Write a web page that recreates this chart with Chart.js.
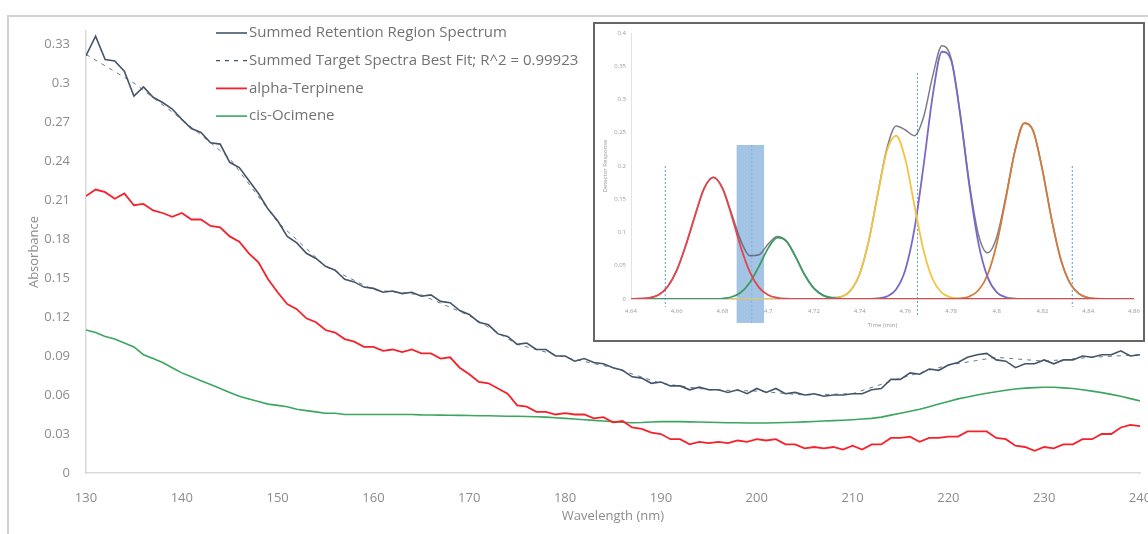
<!DOCTYPE html>
<html>
<head>
<meta charset="utf-8">
<title>Absorbance spectra</title>
<script src="https://cdn.jsdelivr.net/npm/chart.js@4.4.0/dist/chart.umd.min.js"></script>
<style>
  html, body { margin: 0; padding: 0; background: #fff; }
  #wrap { position: relative; width: 1148px; height: 534px; overflow: hidden; }
  #frame { position: absolute; left: 7px; top: 15px; width: 1200px; height: 600px; border: 2px solid #d2d2d2; box-sizing: border-box; }
  #spectrum { position: absolute; left: 0; top: 0; }
  #inset { position: absolute; left: 593px; top: 22px; width: 552px; height: 320px; border: 2px solid #666; box-sizing: border-box; background: #fff; }
  #chromatogram { display: block; }
</style>
</head>
<body>
<div id="wrap">
  <div id="frame"></div>
  <canvas id="spectrum" width="1148" height="534"></canvas>
  <div id="inset"><canvas id="chromatogram" width="548" height="316"></canvas></div>
</div>
<script>
'use strict';

// main spectrum, one value per nm
var wavelengths = [
  130, 131, 132, 133, 134, 135, 136, 137, 138, 139,
  140, 141, 142, 143, 144, 145, 146, 147, 148, 149,
  150, 151, 152, 153, 154, 155, 156, 157, 158, 159,
  160, 161, 162, 163, 164, 165, 166, 167, 168, 169,
  170, 171, 172, 173, 174, 175, 176, 177, 178, 179,
  180, 181, 182, 183, 184, 185, 186, 187, 188, 189,
  190, 191, 192, 193, 194, 195, 196, 197, 198, 199,
  200, 201, 202, 203, 204, 205, 206, 207, 208, 209,
  210, 211, 212, 213, 214, 215, 216, 217, 218, 219,
  220, 221, 222, 223, 224, 225, 226, 227, 228, 229,
  230, 231, 232, 233, 234, 235, 236, 237, 238, 239,
  240
];
var summedSpectrum = [
  0.321, 0.336, 0.318, 0.317, 0.309, 0.290, 0.297, 0.289, 0.285, 0.280,
  0.272, 0.265, 0.262, 0.254, 0.253, 0.239, 0.235, 0.225, 0.215, 0.203,
  0.194, 0.182, 0.177, 0.169, 0.165, 0.159, 0.156, 0.149, 0.147, 0.143,
  0.142, 0.139, 0.140, 0.138, 0.139, 0.136, 0.137, 0.132, 0.131, 0.125,
  0.122, 0.116, 0.114, 0.107, 0.105, 0.099, 0.100, 0.095, 0.095, 0.090,
  0.090, 0.086, 0.088, 0.085, 0.084, 0.081, 0.079, 0.074, 0.073, 0.069,
  0.070, 0.067, 0.067, 0.064, 0.066, 0.064, 0.064, 0.062, 0.064, 0.061,
  0.065, 0.062, 0.065, 0.061, 0.062, 0.060, 0.061, 0.059, 0.060, 0.060,
  0.061, 0.061, 0.064, 0.065, 0.072, 0.072, 0.077, 0.076, 0.080, 0.079,
  0.083, 0.085, 0.089, 0.091, 0.092, 0.087, 0.086, 0.081, 0.084, 0.084,
  0.087, 0.084, 0.087, 0.087, 0.090, 0.089, 0.091, 0.091, 0.094, 0.090,
  0.091
];
var alphaTerpinene = [
  0.213, 0.218, 0.216, 0.211, 0.215, 0.206, 0.207, 0.202, 0.200, 0.197,
  0.200, 0.195, 0.195, 0.190, 0.189, 0.182, 0.178, 0.169, 0.162, 0.149,
  0.139, 0.130, 0.126, 0.119, 0.116, 0.110, 0.108, 0.103, 0.101, 0.097,
  0.097, 0.094, 0.095, 0.093, 0.095, 0.092, 0.092, 0.088, 0.089, 0.081,
  0.076, 0.070, 0.069, 0.065, 0.061, 0.052, 0.051, 0.047, 0.047, 0.045,
  0.046, 0.045, 0.045, 0.042, 0.043, 0.039, 0.040, 0.035, 0.034, 0.031,
  0.030, 0.026, 0.026, 0.022, 0.024, 0.023, 0.024, 0.023, 0.025, 0.024,
  0.026, 0.025, 0.026, 0.022, 0.022, 0.019, 0.020, 0.019, 0.020, 0.018,
  0.021, 0.018, 0.022, 0.022, 0.027, 0.027, 0.028, 0.024, 0.027, 0.027,
  0.028, 0.028, 0.032, 0.032, 0.032, 0.027, 0.026, 0.021, 0.020, 0.017,
  0.020, 0.019, 0.022, 0.022, 0.026, 0.026, 0.030, 0.030, 0.035, 0.037,
  0.036
];
var cisOcimene = [
  0.110, 0.108, 0.105, 0.103, 0.100, 0.097, 0.091, 0.088, 0.085, 0.081,
  0.077, 0.074, 0.071, 0.068, 0.065, 0.062, 0.059, 0.057, 0.055, 0.053,
  0.052, 0.051, 0.049, 0.048, 0.047, 0.046, 0.046, 0.045, 0.045, 0.045,
  0.045, 0.045, 0.045, 0.045, 0.045, 0.0447, 0.0446, 0.0445, 0.0444, 0.0443,
  0.0442, 0.044, 0.044, 0.0438, 0.0437, 0.0436, 0.0435, 0.0433, 0.043, 0.0425,
  0.042, 0.0415, 0.041, 0.0405, 0.040, 0.0395, 0.039, 0.0387, 0.0388, 0.0392,
  0.0395, 0.0396, 0.0395, 0.0393, 0.0392, 0.039, 0.0388, 0.0387, 0.0386, 0.0385,
  0.0385, 0.0385, 0.0386, 0.0388, 0.039, 0.0393, 0.0396, 0.040, 0.0403, 0.0406,
  0.041, 0.0415, 0.042, 0.043, 0.0445, 0.046, 0.0475, 0.049, 0.051, 0.053,
  0.055, 0.057, 0.0585, 0.060, 0.0613, 0.0625, 0.0637, 0.0646, 0.0653, 0.0657,
  0.066, 0.066, 0.0655, 0.065, 0.064, 0.063, 0.0618, 0.0605, 0.059, 0.0572,
  0.0555
];
// best fit, read every 5 nm (it sits under the summed spectrum)
var fitWavelengths = [130, 135, 140, 145, 150, 155, 160, 165, 170, 175, 180, 185,
  190, 195, 200, 205, 210, 215, 220, 225, 230, 235, 240];
var fitSpectrum = [0.322, 0.300, 0.272, 0.242, 0.193, 0.159, 0.141, 0.137, 0.121, 0.099, 0.089, 0.081,
  0.069, 0.064, 0.063, 0.060, 0.061, 0.073, 0.083, 0.089, 0.086, 0.089, 0.091];
var wavelengthTicks = [130, 140, 150, 160, 170, 180, 190, 200, 210, 220, 230, 240];
var absorbanceTicks = [0, 0.03, 0.06, 0.09, 0.12, 0.15, 0.18, 0.21, 0.24, 0.27, 0.3, 0.33];

// inset chromatogram
var insetTimes = [
  4.640, 4.644, 4.648, 4.652, 4.656, 4.660, 4.664, 4.668,
  4.672, 4.676, 4.680, 4.684, 4.688, 4.692, 4.696, 4.700,
  4.704, 4.708, 4.712, 4.716, 4.720, 4.724, 4.728, 4.732,
  4.736, 4.740, 4.744, 4.748, 4.752, 4.756, 4.760, 4.764,
  4.768, 4.772, 4.776, 4.780, 4.784, 4.788, 4.792, 4.796,
  4.800, 4.804, 4.808, 4.812, 4.816, 4.820, 4.824, 4.828,
  4.832, 4.836, 4.840, 4.844, 4.848, 4.852, 4.856, 4.860
];
var peakRed = [
  0, 0.0004, 0.0018, 0.0061, 0.0185, 0.043, 0.081, 0.1254,
  0.1665, 0.183, 0.1665, 0.1254, 0.0781, 0.0404, 0.0172, 0.0061,
  0.0018, 0.0004, 0, 0, 0, 0, 0, 0,
  0, 0, 0, 0, 0, 0, 0, 0,
  0, 0, 0, 0, 0, 0, 0, 0,
  0, 0, 0, 0, 0, 0, 0, 0,
  0, 0, 0, 0, 0, 0, 0, 0
];
var peakGreen = [
  0, 0, 0, 0, 0, 0, 0, 0,
  0, 0.0001, 0.0007, 0.003, 0.0097, 0.0248, 0.0494, 0.0765,
  0.0923, 0.0867, 0.0634, 0.0361, 0.016, 0.0055, 0.0015, 0.0003,
  0, 0, 0, 0, 0, 0, 0, 0,
  0, 0, 0, 0, 0, 0, 0, 0,
  0, 0, 0, 0, 0, 0, 0, 0,
  0, 0, 0, 0, 0, 0, 0, 0
];
var peakYellow = [
  0, 0, 0, 0, 0, 0, 0, 0,
  0, 0, 0, 0, 0, 0, 0, 0,
  0, 0, 0, 0, 0, 0.0001, 0.0007, 0.0033,
  0.0126, 0.0376, 0.0876, 0.1585, 0.2236, 0.2455, 0.21, 0.1399,
  0.0726, 0.0293, 0.0092, 0.0023, 0.0004, 0, 0, 0,
  0, 0, 0, 0, 0, 0, 0, 0,
  0, 0, 0, 0, 0, 0, 0, 0
];
var peakPurple = [
  0, 0, 0, 0, 0, 0, 0, 0,
  0, 0, 0, 0, 0, 0, 0, 0,
  0, 0, 0, 0, 0, 0, 0, 0,
  0, 0, 0.0001, 0.0008, 0.0039, 0.0147, 0.0441, 0.1057,
  0.2015, 0.3066, 0.3718, 0.3593, 0.2768, 0.17, 0.0832, 0.0325,
  0.0101, 0.0025, 0.0005, 0, 0, 0, 0, 0,
  0, 0, 0, 0, 0, 0, 0, 0
];
var peakOrange = [
  0, 0, 0, 0, 0, 0, 0, 0,
  0, 0, 0, 0, 0, 0, 0, 0,
  0, 0, 0, 0, 0, 0, 0, 0,
  0, 0, 0, 0, 0, 0, 0, 0,
  0, 0, 0, 0.0002, 0.0009, 0.0038, 0.0131, 0.0369,
  0.0835, 0.1522, 0.2235, 0.2643, 0.2518, 0.1931, 0.1193, 0.0593,
  0.0238, 0.0077, 0.002, 0.0004, 0, 0, 0, 0
];
var peakSum = [
  0.0003, 0.0006, 0.0019, 0.0062, 0.0185, 0.043, 0.081, 0.1254,
  0.1665, 0.1831, 0.1672, 0.1284, 0.0878, 0.0652, 0.0666, 0.0826,
  0.0941, 0.0871, 0.0634, 0.0361, 0.016, 0.0056, 0.0022, 0.0036,
  0.0126, 0.0376, 0.0877, 0.1593, 0.2275, 0.2602, 0.2541, 0.2456,
  0.2741, 0.3359, 0.381, 0.3618, 0.2781, 0.1738, 0.0963, 0.0694,
  0.0936, 0.1547, 0.224, 0.2643, 0.2518, 0.1931, 0.1193, 0.0593,
  0.0238, 0.0077, 0.002, 0.0004, 0.0002, 0.0002, 0.0002, 0.0002
];
var insetTimeTicks = [4.64, 4.66, 4.68, 4.7, 4.72, 4.74, 4.76, 4.78, 4.8, 4.82, 4.84, 4.86];
var insetResponseTicks = [0, 0.05, 0.1, 0.15, 0.2, 0.25, 0.3, 0.35, 0.4];
var markerTimes = [4.655, 4.7653, 4.833];
var markerTops = [0.2, 0.34, 0.2];
var markerBottoms = [-0.012, -0.024, -0.012];
var windowTimes = [4.6862, 4.6928, 4.6982];
var windowResponses = [-0.036, 0.2316];

function points(xs, ys) {
  return xs.map(function(x, i) { return { x: x, y: ys[i] }; });
}

function fixedTicks(list) {
  return function(scale) {
    scale.ticks = list.map(function(v) { return { value: v }; });
  };
}

var tickFont = { family: '"Open Sans", sans-serif', size: 13 };
var greyText = '#8c8c8c';

var legendRows = {
  id: 'legendRows',
  afterDraw: function(chart) {
    var ctx = chart.ctx;
    ctx.save();
    ctx.font = '15px "Open Sans", sans-serif';
    ctx.textBaseline = 'middle';
    chart.data.datasets.forEach(function(ds, i) {
      var y = 33 + i * 27.7;
      ctx.strokeStyle = ds.borderColor;
      ctx.lineWidth = ds.label.indexOf('Fit') > 0 ? 1.3 : ds.borderWidth;
      ctx.setLineDash(ds.borderDash || []);
      ctx.beginPath();
      ctx.moveTo(216, y);
      ctx.lineTo(247, y);
      ctx.stroke();
      ctx.fillStyle = '#727272';
      ctx.fillText(ds.label, 249, y);
    });
    ctx.restore();
  }
};

var spectrumChart = new Chart(document.getElementById('spectrum'), {
  type: 'line',
  data: {
    datasets: [
      { label: 'Summed Retention Region Spectrum', data: points(wavelengths, summedSpectrum),
        borderColor: '#44546a', borderWidth: 1.6, order: 1 },
      { label: 'Summed Target Spectra Best Fit; R^2 = 0.99923', data: points(fitWavelengths, fitSpectrum),
        borderColor: '#44546a', borderWidth: 0.8, borderDash: [4, 5], order: 4 },
      { label: 'alpha-Terpinene', data: points(wavelengths, alphaTerpinene),
        borderColor: '#f5212b', borderWidth: 1.8, order: 2 },
      { label: 'cis-Ocimene', data: points(wavelengths, cisOcimene),
        borderColor: '#3aa65f', borderWidth: 1.6, order: 3 }
    ]
  },
  options: {
    responsive: false,
    animation: false,
    elements: { point: { radius: 0 }, line: { tension: 0 } },
    layout: { padding: { top: 31, right: 8, left: 0, bottom: 0 } },
    plugins: { legend: { display: false }, tooltip: { enabled: false } },
    scales: {
      x: {
        type: 'linear', min: 130, max: 240,
        afterBuildTicks: fixedTicks(wavelengthTicks),
        afterFit: function(scale) { scale.height = 61; scale.paddingLeft = 0; scale.paddingRight = 0; },
        grid: { display: false, drawTicks: false },
        border: { display: true, color: '#d9d9d9', width: 1.5 },
        ticks: { font: tickFont, color: greyText, padding: 17, maxRotation: 0,
          callback: function(v) { return String(v); } },
        title: { display: true, text: 'Wavelength (nm)', font: tickFont, color: greyText, padding: { top: 0, bottom: 10 } }
      },
      y: {
        min: 0, max: 0.34,
        afterBuildTicks: fixedTicks(absorbanceTicks),
        afterFit: function(scale) { scale.width = 86; scale.paddingTop = 0; scale.paddingBottom = 0; },
        grid: { display: false, drawTicks: false },
        border: { display: true, color: '#d9d9d9', width: 1.5 },
        ticks: { font: tickFont, color: greyText, padding: 16,
          callback: function(v) { return String(v); } },
        title: { display: true, text: 'Absorbance', font: tickFont, color: greyText, padding: { top: 26, bottom: 0 } }
      }
    }
  },
  plugins: [legendRows]
});

var insetMarks = {
  id: 'insetMarks',
  beforeDatasetsDraw: function(chart) {
    var ctx = chart.ctx, xs = chart.scales.x, ys = chart.scales.y;
    ctx.save();
    var left = xs.getPixelForValue(windowTimes[0]);
    var right = xs.getPixelForValue(windowTimes[2]);
    var top = ys.getPixelForValue(windowResponses[1]);
    var bottom = ys.getPixelForValue(windowResponses[0]);
    ctx.fillStyle = '#a3c4e5';
    ctx.fillRect(left, top, right - left, bottom - top);
    ctx.lineWidth = 1;
    ctx.setLineDash([2, 2]);
    ctx.strokeStyle = '#7fb0de';
    var mid = xs.getPixelForValue(windowTimes[1]);
    ctx.beginPath();
    ctx.moveTo(mid, top);
    ctx.lineTo(mid, bottom);
    ctx.stroke();
    ctx.strokeStyle = '#5b9bd5';
    markerTimes.forEach(function(t, i) {
      var x = xs.getPixelForValue(t);
      ctx.beginPath();
      ctx.moveTo(x, ys.getPixelForValue(markerTops[i]));
      ctx.lineTo(x, ys.getPixelForValue(markerBottoms[i]));
      ctx.stroke();
    });
    ctx.restore();
  }
};

var smallFont = { family: '"Open Sans", sans-serif', size: 6 };
var insetGrey = '#9a9a9a';

var chromatogramChart = new Chart(document.getElementById('chromatogram'), {
  type: 'line',
  data: {
    datasets: [
      { label: 'Peak 1', data: points(insetTimes, peakRed), borderColor: '#e2454b' },
      { label: 'Peak 2', data: points(insetTimes, peakGreen), borderColor: '#3c9a62' },
      { label: 'Peak 3', data: points(insetTimes, peakYellow), borderColor: '#f3c443' },
      { label: 'Peak 4', data: points(insetTimes, peakPurple), borderColor: '#7a68c6' },
      { label: 'Peak 5', data: points(insetTimes, peakOrange), borderColor: '#d27b3c' },
      { label: 'Sum', data: points(insetTimes, peakSum), borderColor: 'rgba(80,82,100,0.75)', borderWidth: 1.5 }
    ]
  },
  options: {
    responsive: false,
    animation: false,
    elements: { point: { radius: 0 }, line: { tension: 0, cubicInterpolationMode: 'monotone', borderWidth: 1.8 } },
    layout: { padding: { top: 9, right: 9, left: 0, bottom: 0 } },
    plugins: { legend: { display: false }, tooltip: { enabled: false } },
    scales: {
      x: {
        type: 'linear', min: 4.64, max: 4.86,
        afterBuildTicks: fixedTicks(insetTimeTicks),
        afterFit: function(scale) { scale.height = 41; scale.paddingLeft = 0; scale.paddingRight = 0; },
        grid: { display: false, drawTicks: false },
        border: { display: true, color: '#d9d9d9' },
        ticks: { font: smallFont, color: insetGrey, padding: 9, maxRotation: 0,
          callback: function(v) { return String(v); } },
        title: { display: true, text: 'Time (min)', font: smallFont, color: insetGrey, padding: { top: 0, bottom: 11 } }
      },
      y: {
        min: 0, max: 0.4,
        afterBuildTicks: fixedTicks(insetResponseTicks),
        afterFit: function(scale) { scale.width = 36; scale.paddingTop = 0; scale.paddingBottom = 0; },
        grid: { display: false, drawTicks: false },
        border: { display: true, color: '#e2e2e2' },
        ticks: { font: smallFont, color: insetGrey, padding: 5,
          callback: function(v) { return String(v); } },
        title: { display: true, text: 'Detector Response', font: smallFont, color: insetGrey, padding: { top: 7, bottom: 0 } }
      }
    }
  },
  plugins: [insetMarks]
});
</script>
</body>
</html>
